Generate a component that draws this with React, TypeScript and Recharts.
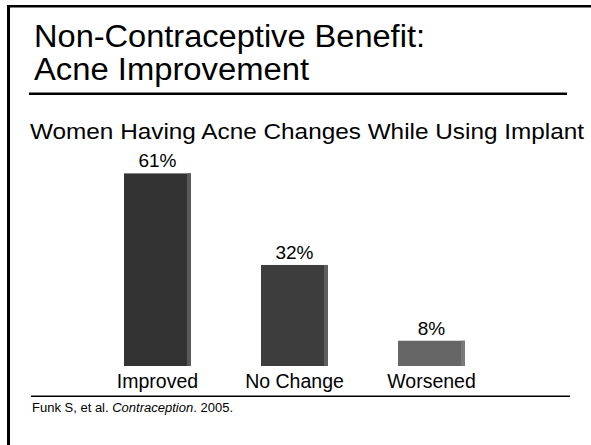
import React from 'react';
import { BarChart, Bar, XAxis, YAxis, LabelList } from 'recharts';

const categories = ['Improved', 'No Change', 'Worsened'];
const percentages = [61, 32, 8];
const barColors = ['#333333', '#3d3d3d', '#666666'];
const edgeColors = ['#5a5a5a', '#5e5e5e', '#7a7a7a'];

const data = categories.map((name, i) => ({
  name,
  value: percentages[i],
  fill: barColors[i],
  edge: edgeColors[i]
}));

const FONT = '"Liberation Sans", Arial, Helvetica, sans-serif';

// bar with a thin lighter strip down its right side
const ShadedBar = (props: any) => {
  const { x, y, width, height, payload } = props;
  if (!height || height <= 0) return null;
  return (
    <g>
      <rect x={x} y={y} width={width} height={height} fill={payload.fill} />
      <rect x={x + width - 4} y={y} width={4} height={height} fill={payload.edge} />
    </g>
  );
};

const CategoryTick = (props: any) => {
  const { x, y, payload } = props;
  return (
    <text x={x} y={y + 22} textAnchor="middle" fontSize={19.5} fill="#000" fontFamily={FONT}>
      {payload.value}
    </text>
  );
};

const App: React.FC = () => {
  return (
    <div
      style={{
        position: 'absolute',
        left: 0,
        top: 0,
        width: 591,
        height: 445,
        overflow: 'hidden',
        background: '#fff',
        fontFamily: FONT
      }}
    >
      <svg width={591} height={445} style={{ position: 'absolute', left: 0, top: 0 }}>
        {/* slide frame */}
        <rect x={7} y={5} width={600} height={2.5} fill="#000" />
        <rect x={7} y={5} width={3} height={450} fill="#000" />

        {/* title */}
        <text x={34} y={47} fontSize={31} fill="#000" textLength={391} lengthAdjust="spacingAndGlyphs">
          Non-Contraceptive Benefit:
        </text>
        <text x={34} y={80} fontSize={31} fill="#000" textLength={275} lengthAdjust="spacingAndGlyphs">
          Acne Improvement
        </text>
        <rect x={29} y={92.5} width={538} height={2.5} fill="#000" />

        {/* chart heading */}
        <text x={30} y={138.5} fontSize={22} fill="#000" textLength={554} lengthAdjust="spacingAndGlyphs">
          Women Having Acne Changes While Using Implant
        </text>

        {/* reference */}
        <rect x={31} y={395.5} width={539} height={1.5} fill="#000" />
        <text x={32} y={412} fontSize={12} fill="#000" textLength={201} lengthAdjust="spacingAndGlyphs">
          Funk S, et al. <tspan fontStyle="italic">Contraception</tspan>. 2005.
        </text>
      </svg>

      <div style={{ position: 'absolute', left: 0, top: 0 }}>
        <BarChart
          width={591}
          height={445}
          data={data}
          margin={{ top: 145, right: 91, bottom: 49, left: 89 }}
        >
          <XAxis
            dataKey="name"
            axisLine={false}
            tickLine={false}
            tickSize={0}
            tickMargin={0}
            height={30}
            interval={0}
            tick={<CategoryTick />}
          />
          <YAxis hide domain={[0, 70]} />
          <Bar dataKey="value" barSize={67} shape={<ShadedBar />} isAnimationActive={false}>
            <LabelList
              dataKey="value"
              position="top"
              offset={6}
              formatter={(v: any) => `${v}%`}
              fill="#000"
              fontSize={19}
              fontFamily={FONT}
            />
          </Bar>
        </BarChart>
      </div>
    </div>
  );
};

export default App;
